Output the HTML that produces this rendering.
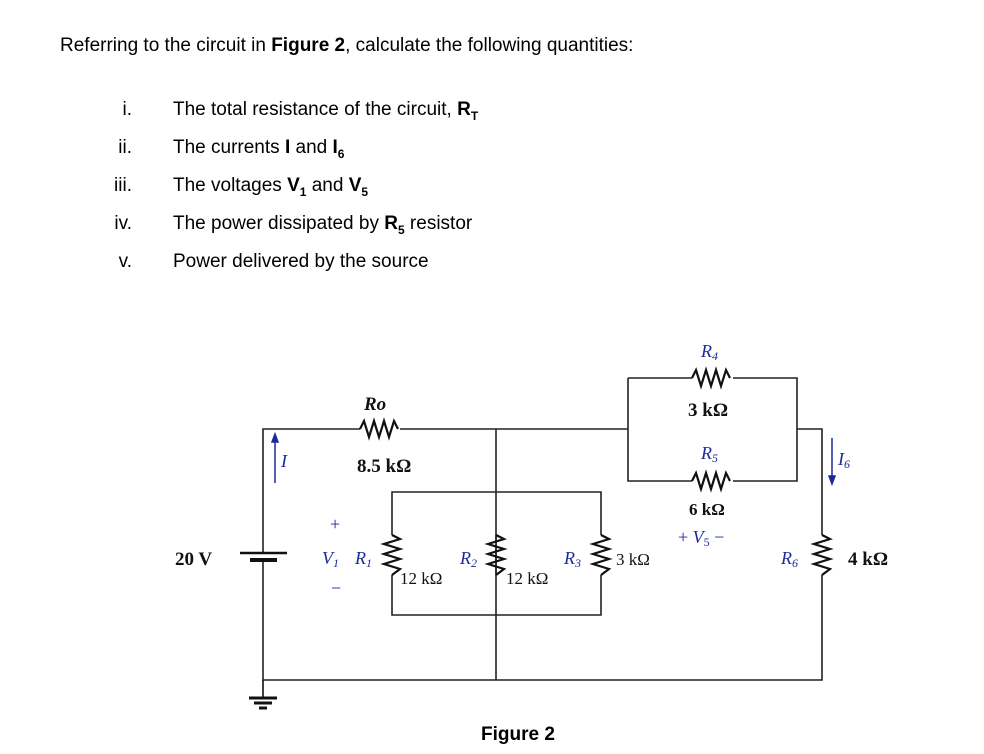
<!DOCTYPE html>
<html><head><style>
body{margin:0;width:984px;height:754px;background:#fff;font-family:"Liberation Sans",Arial,sans-serif;color:#000;position:relative;overflow:hidden}
.t{position:absolute;font-size:19px;white-space:nowrap;line-height:22px}
.n{position:absolute;font-size:19px;width:40px;text-align:right;line-height:22px}
sub{font-size:12px;line-height:0}
</style></head><body>
<div class="t" style="left:60px;top:35px">Referring to the circuit in <b>Figure 2</b>, calculate the following quantities:</div>
<div class="n" style="left:92px;top:99px">i.</div><div class="t" style="left:173px;top:99px">The total resistance of the circuit, <b>R<sub>T</sub></b></div>
<div class="n" style="left:92px;top:137px">ii.</div><div class="t" style="left:173px;top:137px">The currents <b>I</b> and <b>I<sub>6</sub></b></div>
<div class="n" style="left:92px;top:175px">iii.</div><div class="t" style="left:173px;top:175px">The voltages <b>V<sub>1</sub></b> and <b>V<sub>5</sub></b></div>
<div class="n" style="left:92px;top:213px">iv.</div><div class="t" style="left:173px;top:213px">The power dissipated by <b>R<sub>5</sub></b> resistor</div>
<div class="n" style="left:92px;top:251px">v.</div><div class="t" style="left:173px;top:251px">Power delivered by the source</div>
<svg width="984" height="754" style="position:absolute;left:0;top:0" font-family="Liberation Serif,serif">
<g stroke="#222" stroke-width="1.6" fill="none">
<path d="M263 553V429H360M400 429H628M496 429V680M263 560V680H822V575M822 535V429H797M628 378H692M733 378H797V481H733M692 481H628V378"/>
<path d="M392 535V492H601V535M392 575V615H601V575M496 535V575"/>
</g>
<g stroke="#111" stroke-width="2.2" fill="none">
<path d="M360 429l4-8 5 16 5-16 5 16 5-16 5 16 5-16 4 8"/>
<path d="M692 378l4-8 5 16 5-16 5 16 5-16 5 16 5-16 4 8"/>
<path d="M692 481l4-8 5 16 5-16 5 16 5-16 5 16 5-16 4 8"/>
<path d="M392 535l8 4-16 5 16 5-16 5 16 5-16 5 16 5-8 6"/>
<path d="M496 535l8 4-16 5 16 5-16 5 16 5-16 5 16 5-8 6"/>
<path d="M601 535l8 4-16 5 16 5-16 5 16 5-16 5 16 5-8 6"/>
<path d="M822 535l8 4-16 5 16 5-16 5 16 5-16 5 16 5-8 6"/>
<path d="M263 680V697" stroke-width="1.6"/>
</g>
<line x1="240" y1="553" x2="287" y2="553" stroke="#111" stroke-width="2.5"/>
<line x1="250" y1="560" x2="277" y2="560" stroke="#111" stroke-width="4"/>
<line x1="249" y1="698" x2="277" y2="698" stroke="#111" stroke-width="3"/>
<line x1="254" y1="703" x2="272" y2="703" stroke="#111" stroke-width="3"/>
<line x1="259" y1="708" x2="267" y2="708" stroke="#111" stroke-width="3"/>
<g stroke="#1a2a9a" stroke-width="1.5" fill="#1a2a9a">
<line x1="275" y1="483" x2="275" y2="440"/><path d="M272 442l3-8 3 8z"/>
<line x1="832" y1="438" x2="832" y2="480"/><path d="M829 476l3 8 3-8z"/>
</g>
<g font-size="19" font-weight="bold" fill="#111">
<text x="175" y="565">20 V</text>
<text x="357" y="472">8.5 kΩ</text>
<text x="688" y="416">3 kΩ</text>
<text x="848" y="565">4 kΩ</text>
<text x="364" y="410" font-style="italic">Ro</text>
</g>
<g font-size="17" fill="#111">
<text x="400" y="584">12 kΩ</text>
<text x="506" y="584">12 kΩ</text>
<text x="616" y="565">3 kΩ</text>
<text x="689" y="515" font-weight="bold">6 kΩ</text>
</g>
<g font-size="18" font-style="italic" fill="#1a2a9a">
<text x="355" y="564">R<tspan font-size="12" dy="3">1</tspan></text>
<text x="460" y="564">R<tspan font-size="12" dy="3">2</tspan></text>
<text x="564" y="564">R<tspan font-size="12" dy="3">3</tspan></text>
<text x="781" y="564">R<tspan font-size="12" dy="3">6</tspan></text>
<text x="701" y="357">R<tspan font-size="12" dy="3">4</tspan></text>
<text x="701" y="459">R<tspan font-size="12" dy="3">5</tspan></text>
<text x="322" y="564">V<tspan font-size="12" dy="3">1</tspan></text>
<text x="281" y="467">I</text>
<text x="838" y="465">I<tspan font-size="12" dy="3">6</tspan></text>
<text x="678" y="543" font-style="normal">+ <tspan font-style="italic">V</tspan><tspan font-size="12" dy="3">5</tspan><tspan dy="-3"> −</tspan></text>
<text x="330" y="530" font-style="normal">+</text>
<text x="331" y="594" font-style="normal">−</text>
</g>
</svg>
<div class="t" style="left:481px;top:724px;font-weight:bold">Figure 2</div>
</body></html>
